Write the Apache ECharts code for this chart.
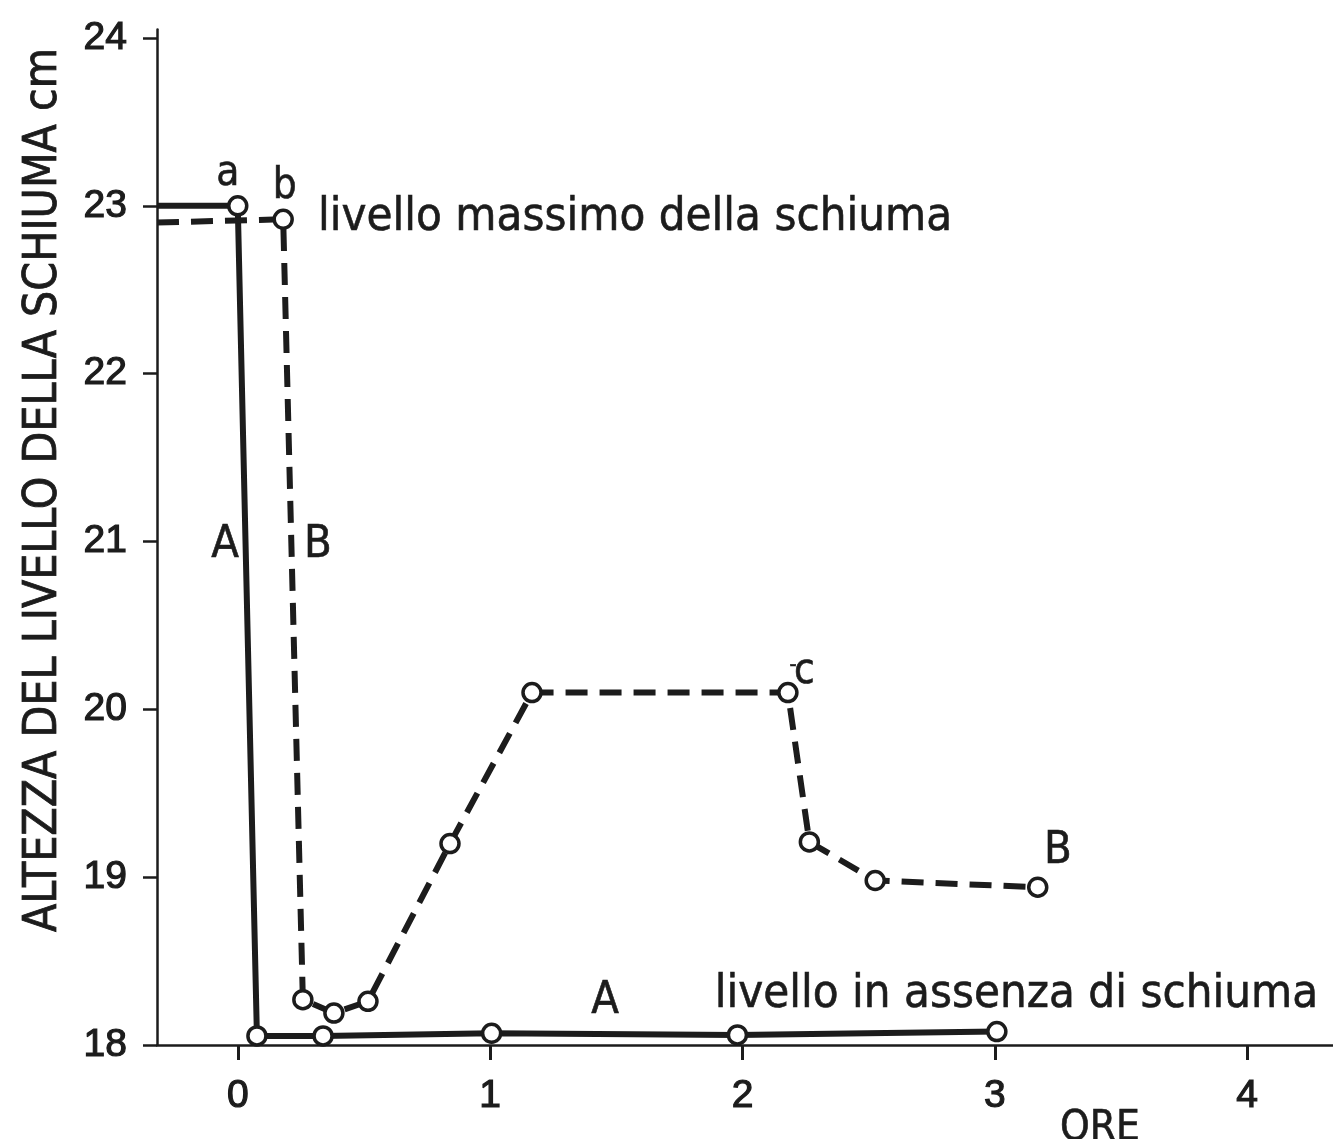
<!DOCTYPE html>
<html>
<head>
<meta charset="utf-8">
<script src="https://cdn.jsdelivr.net/npm/echarts@6/dist/echarts.min.js"></script>
<style>
  html, body { margin: 0; padding: 0; background: #ffffff; }
  #chart { width: 1333px; height: 1139px; }
</style>
</head>
<body>
<div id="chart"></div>
<script>
// Curve A: foam level without antifoam treatment (hours, cm)
const timeA  = [-0.32, 0.00, 0.076, 0.338, 1.006, 1.98, 3.008];
const levelA = [23.00, 23.00, 18.054, 18.054, 18.07, 18.06, 18.08];

// Curve B: foam level with treatment (hours, cm)
const timeB  = [-0.32, 0.18, 0.258, 0.381, 0.516, 0.841, 1.166, 2.18, 2.265, 2.526, 3.17];
const levelB = [22.90, 22.92, 18.27, 18.19, 18.26, 19.20, 20.10, 20.10, 19.21, 18.98, 18.94];

// Axis ticks
const xTicks = [0, 1, 2, 3, 4];
const yTicks = [18, 19, 20, 21, 22, 23, 24];

// Text annotations placed in data coordinates
const noteText = ['a', 'b', '-', 'c', 'A', 'B', 'B', 'A',
                  'livello massimo della schiuma', 'livello in assenza di schiuma', 'ORE'];
const noteX    = [-0.039, 0.186, 2.20, 2.245, -0.05, 0.318, 3.25, 1.456, 0.318, 1.89, 3.416];
const noteY    = [23.19, 23.11, 20.26, 20.22, 20.98, 20.98, 19.156, 18.26, 22.93, 18.30, 17.50];
const noteAlign = ['center', 'center', 'center', 'center', 'center', 'center', 'center', 'center',
                   'left', 'left', 'center'];

const ink = '#1c1c1c';
const textFont = '"DejaVu Sans Condensed", "Liberation Sans Narrow", "DejaVu Sans", sans-serif';
const numFont = '"Liberation Sans", Arial, sans-serif';

const pairs = (xs, ys) => xs.map((x, i) => [x, ys[i]]);

// first point of each curve sits on the axis and carries no marker
const withMarkers = (xs, ys) => pairs(xs, ys).map((p, i) =>
  i === 0 ? { value: p, symbol: 'none' } : { value: p });

const noteSize = t => (t.length > 3 ? 47 : (t === 'A' || t === 'B') ? 45 : t === '-' ? 22 : 42);

const chart = echarts.init(document.getElementById('chart'), null, { renderer: 'canvas' });

const numLabel = {
  color: ink, fontSize: 39, fontWeight: 'normal', fontFamily: numFont,
  textBorderColor: ink, textBorderWidth: 1.2
};

chart.setOption({
  animation: false,
  backgroundColor: '#ffffff',
  grid: { left: 157, right: 0, top: 29.6, bottom: 94, containLabel: false },
  xAxis: {
    type: 'value',
    min: -0.32,
    max: 4.34,
    splitLine: { show: false },
    axisLine: { show: true, onZero: false, lineStyle: { color: ink, width: 2.5 } },
    axisTick: { show: true, length: 15, customValues: xTicks, lineStyle: { color: ink, width: 3 } },
    axisLabel: Object.assign({ customValues: xTicks, margin: 32 }, numLabel)
  },
  yAxis: {
    type: 'value',
    min: 18,
    max: 24.05,
    splitLine: { show: false },
    axisLine: { show: true, onZero: false, lineStyle: { color: ink, width: 2.5 } },
    axisTick: { show: true, length: 14, customValues: yTicks, lineStyle: { color: ink, width: 2.5 } },
    axisLabel: Object.assign({ customValues: yTicks, margin: 30 }, numLabel)
  },
  graphic: [{
    type: 'text',
    x: 44,
    y: 490,
    rotation: Math.PI / 2,
    style: {
      text: 'ALTEZZA DEL LIVELLO DELLA SCHIUMA cm',
      fill: ink,
      stroke: ink,
      lineWidth: 0.8,
      font: '46px ' + textFont,
      textAlign: 'center',
      textVerticalAlign: 'middle'
    }
  }],
  series: [
    {
      name: 'A',
      type: 'line',
      data: withMarkers(timeA, levelA),
      symbol: 'circle',
      symbolSize: 18,
      showAllSymbol: true,
      lineStyle: { color: ink, width: 6, type: 'solid' },
      itemStyle: { color: '#ffffff', borderColor: ink, borderWidth: 3.5 },
      z: 3
    },
    {
      name: 'B',
      type: 'line',
      data: withMarkers(timeB, levelB),
      symbol: 'circle',
      symbolSize: 18,
      showAllSymbol: true,
      lineStyle: { color: ink, width: 6, type: [22, 12] },
      itemStyle: { color: '#ffffff', borderColor: ink, borderWidth: 3.5 },
      z: 4
    },
    {
      name: 'note',
      type: 'scatter',
      clip: false,
      symbolSize: 0,
      silent: true,
      itemStyle: { opacity: 1 },
      data: noteText.map((t, i) => ({
        value: [noteX[i], noteY[i]],
        label: {
          show: true,
          position: 'inside',
          formatter: t,
          align: noteAlign[i],
          verticalAlign: 'middle',
          color: ink,
          opacity: 1,
          textBorderColor: ink,
          textBorderWidth: 0.6,
          fontSize: noteSize(t),
          fontFamily: textFont
        }
      })),
      z: 5
    }
  ]
});
</script>
</body>
</html>
